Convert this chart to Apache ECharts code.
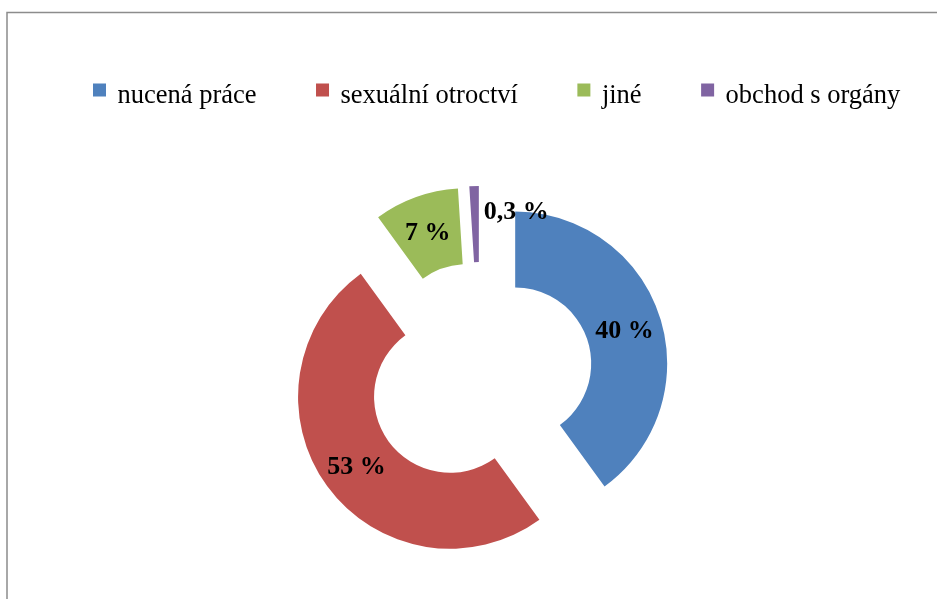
<!DOCTYPE html>
<html>
<head>
<meta charset="utf-8">
<script src="https://cdn.jsdelivr.net/npm/echarts@6/dist/echarts.min.js"></script>
<style>
html,body{margin:0;padding:0;background:#fff;}
#chart{width:937px;height:599px;}
</style>
</head>
<body>
<div id="chart"></div>
<script>
// Slice sizes as drawn; the printed labels are kept as text
const categories = ['nucená práce', 'sexuální otroctví', 'jiné', 'obchod s orgány'];
const values = [40, 50, 9, 1];
const valueLabels = ['40 %', '53 %', '7 %', '0,3 %'];

const colors = ['#4F81BD', '#C0504D', '#9BBB59', '#8064A2'];
const labelShift = [[-2, 4], [1, 2], [0, 3], [41, -9]];

const chart = echarts.init(document.getElementById('chart'), null, {renderer: 'canvas'});
chart.setOption({
  animation: false,
  color: colors,
  graphic: [{
    type: 'rect',
    shape: {x: 7, y: 12.5, width: 960, height: 620},
    style: {fill: 'none', stroke: '#8c8c8c', lineWidth: 1.5},
    silent: true
  }],
  legend: {
    left: 88,
    top: 78,
    itemWidth: 13,
    itemHeight: 26,
    itemGap: 59.5,
    // square marker sitting in the upper half of a taller icon box
    icon: 'path://M0,0H13V13H0Z M0,25.99H0.01V26H0Z',
    selectedMode: false,
    textStyle: {fontFamily: 'Liberation Serif', fontSize: 26.5, color: '#000', padding: [0, 0, 0, 6.5]},
    data: categories
  },
  series: [{
    type: 'pie',
    center: [480, 375],
    radius: [76, 152],
    startAngle: 90,
    clockwise: true,
    selectedMode: 'multiple',
    selectedOffset: 37,
    avoidLabelOverlap: false,
    itemStyle: {borderWidth: 0},
    emphasis: {disabled: true},
    label: {
      show: true,
      position: 'inside',
      fontFamily: 'Liberation Serif',
      fontWeight: 'bold',
      fontSize: 26,
      color: '#000',
      formatter: p => valueLabels[p.dataIndex]
    },
    labelLine: {show: false},
    labelLayout: p => ({dx: labelShift[p.dataIndex][0], dy: labelShift[p.dataIndex][1]}),
    data: categories.map((c, i) => ({name: c, value: values[i], selected: true}))
  }]
});
</script>
</body>
</html>
